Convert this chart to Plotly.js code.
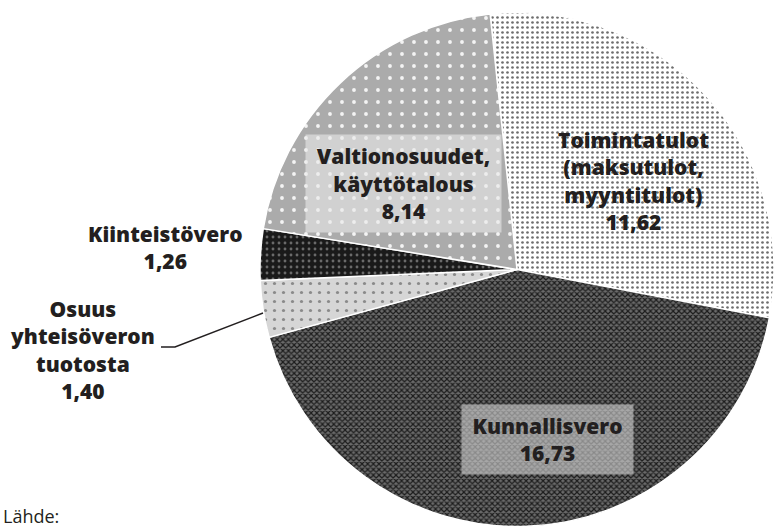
<!DOCTYPE html>
<html>
<head>
<meta charset="utf-8">
<script src="https://cdn.plot.ly/plotly-3.0.1.min.js"></script>
<style>
html,body{margin:0;padding:0;background:#fff;}
#chart{width:775px;height:530px;}
</style>
</head>
<body>
<div id="chart"></div>
<script>
// Data
const labels = ["Toimintatulot (maksutulot, myyntitulot)", "Kunnallisvero", "Osuus yhteisöveron tuotosta", "Kiinteistövero", "Valtionosuudet, käyttötalous"];
const labelLines = [
  ["Toimintatulot", "(maksutulot,", "myyntitulot)"],
  ["Kunnallisvero"],
  ["Osuus", "yhteisöveron", "tuotosta"],
  ["Kiinteistövero"],
  ["Valtionosuudet,", "käyttötalous"]
];
const values = [11.62, 16.73, 1.40, 1.26, 8.14];
const sourceText = "Lähde:";

// Styles
const W = 775, H = 530;
const px = x => x / W;
const py = y => (H - y) / H;
const fmt = v => v.toFixed(2).replace('.', ',');

const patterns = {
  shape: ['.', 'x', '.', '.', '.'],
  bgcolor: ['#ffffff', '#6a6a6a', '#d6d6d6', '#1a1a1a', '#ababab'],
  fgcolor: ['#6e6e6e', '#1c1c1c', '#8a8a8a', '#6a6a6a', '#f4f4f4'],
  size: [5, 4, 9, 6, 12],
  solidity: [0.22, 0.5, 0.1, 0.18, 0.08]
};

const trace = {
  type: 'pie',
  labels: labels,
  values: values,
  sort: false,
  direction: 'clockwise',
  rotation: -6,
  textinfo: 'none',
  hoverinfo: 'label+value',
  domain: {x: [px(260), px(774)], y: [py(527), py(12)]},
  marker: {
    colors: patterns.bgcolor,
    line: {color: '#ffffff', width: 1.5},
    pattern: {
      shape: patterns.shape,
      bgcolor: patterns.bgcolor,
      fgcolor: patterns.fgcolor,
      size: patterns.size,
      solidity: patterns.solidity,
      fillmode: 'replace'
    }
  }
};

const fontB = {family: 'Open Sans, sans-serif', size: 21, color: '#231f20', weight: 800};
const labelText = i => labelLines[i].concat([fmt(values[i])]).join('<br>');

// label positions (pixel centers)
const pos = [
  {x: 633, y: 181},
  {x: 547, y: 439, w: 169, h: 67, bg: 'rgba(205,205,205,0.62)'},
  {x: 82, y: 350},
  {x: 165, y: 247},
  {x: 403, y: 183, w: 193, h: 95, bg: 'rgba(232,232,232,0.62)'}
];

const annotations = values.map((v, i) => {
  const p = pos[i];
  const a = {
    xref: 'paper', yref: 'paper', x: px(p.x), y: py(p.y),
    xanchor: 'center', yanchor: 'middle',
    text: labelText(i), showarrow: false, align: 'center',
    font: fontB
  };
  if (p.w) { a.width = p.w; a.height = p.h; a.bgcolor = p.bg; a.valign = 'middle'; }
  return a;
});

annotations.push({
  xref: 'paper', yref: 'paper', x: px(1), y: py(516),
  xanchor: 'left', yanchor: 'middle', showarrow: false,
  text: sourceText,
  font: {family: 'Open Sans, sans-serif', size: 18, color: '#231f20'}
});

const layout = {
  width: W, height: H,
  margin: {l: 0, r: 0, t: 0, b: 0},
  paper_bgcolor: '#ffffff',
  showlegend: false,
  annotations: annotations,
  shapes: [{
    type: 'path', xref: 'paper', yref: 'paper',
    path: `M ${px(161)} ${py(347)} L ${px(175)} ${py(347)} L ${px(263)} ${py(313)}`,
    line: {color: '#231f20', width: 1.5}
  }]
};

Plotly.newPlot('chart', [trace], layout, {displayModeBar: false, staticPlot: true});
</script>
</body>
</html>
